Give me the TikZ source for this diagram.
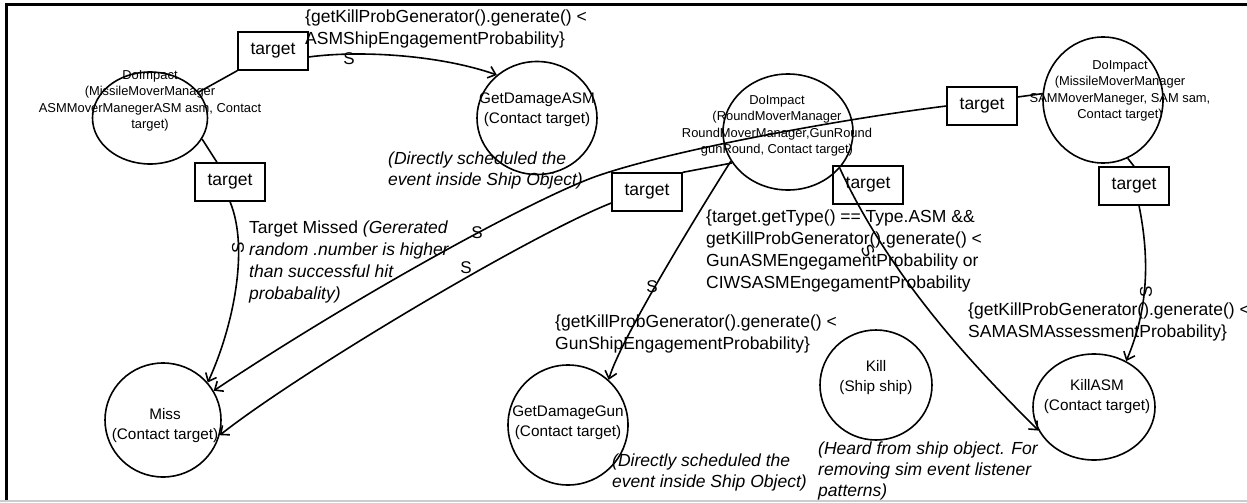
\documentclass[tikz,border=0pt]{standalone}
\usepackage{fontspec}
\setmainfont{Liberation Sans}
\usetikzlibrary{arrows.meta}
\usetikzlibrary{shapes.geometric}

\begin{document}
\begin{tikzpicture}[
          x=1pt, y=-1pt,
          state/.style = {ellipse, draw, line width=1.6pt, inner sep=0pt},
          statetext/.style = {align=center, inner sep=0pt, font=\fontsize{15.3}{20}\selectfont},
          calltext/.style = {align=center, inner sep=0pt, font=\fontsize{12.9}{16.3}\selectfont},
          tbox/.style = {rectangle, draw, line width=1.3pt, minimum width=70pt, minimum height=38pt, inner sep=0pt, font=\fontsize{17.5}{20}\selectfont},
          cond/.style = {align=left, anchor=west, inner sep=0pt, font=\fontsize{17.5}{22}\selectfont},
          note/.style = {align=left, anchor=west, inner sep=0pt, font=\fontsize{17.5}{21}\selectfont\itshape},
          sched/.style = {inner sep=0pt, font=\fontsize{17}{17}\selectfont},
          link/.style = {line width=1.6pt},
          arrow/.style = {line width=1.6pt, -{Straight Barb[length=7pt, width=12pt]}}
        ]
        \useasboundingbox (0,0) rectangle (1247,503);

        % Frame
        \draw[line width=3pt] (6.5,502) -- (6.5,5) -- (1247,5);
        \draw[black!20, line width=2pt] (0,501) -- (1247,501);

        % Nodes
        \node[state, minimum width=115pt, minimum height=92pt] (asmImpact) at (150,118) {};
        \node[calltext] (asmImpactText) at (150,101) {DoImpact\\(MissileMoverManager\\ASMMoverManegerASM asm, Contact\\target)};
        \node[state, minimum width=120pt, minimum height=113pt] (dmgAsm) at (537,118) {};
        \node[statetext] (dmgAsmText) at (537,110) {GetDamageASM\\(Contact target)};
        \node[state, minimum width=130pt, minimum height=116pt] (gunImpact) at (788,132) {};
        \node[calltext] (gunImpactText) at (777,126) {DoImpact\\(RoundMoverManager\\RoundMoverManager,GunRound\\gunRound, Contact target)};
        \node[state, minimum width=120pt, minimum height=126pt] (samImpact) at (1103,100) {};
        \node[calltext] (samImpactText) at (1120,91) {DoImpact\\(MissileMoverManager\\SAMMoverManeger, SAM sam,\\Contact target)};
        \node[state, minimum width=116pt, minimum height=114pt] (miss) at (163,420) {};
        \node[statetext] (missText) at (165,426) {Miss\\(Contact target)};
        \node[state, minimum width=120pt, minimum height=120pt] (dmgGun) at (568,425) {};
        \node[statetext] (dmgGunText) at (568,423) {GetDamageGun\\(Contact target)};
        \node[state, minimum width=112pt, minimum height=110pt] (kill) at (876,385) {};
        \node[statetext] (killText) at (876,378) {Kill\\(Ship ship)};
        \node[state, minimum width=122pt, minimum height=106pt] (killAsm) at (1094,407) {};
        \node[statetext] (killAsmText) at (1097,397) {KillASM\\(Contact target)};

        % Target boxes
        \node[tbox] (asmTgtA) at (273,51) {target};
        \node[tbox] (asmTgtB) at (230,182) {target};
        \node[tbox] (samTgtA) at (982,106) {target};
        \node[tbox] (gunTgtA) at (647,192) {target};
        \node[tbox] (gunTgtB) at (868,185) {target};
        \node[tbox] (samTgtB) at (1134,186) {target};

        % Paths between nodes
        \draw[link] (asmImpact.28) -- (asmTgtA.south west);
        \draw[arrow] ([yshift=-6pt]asmTgtA.east) .. controls (360,50) and (440,55) .. (dmgAsm.133);
        \draw[link] (asmImpact.-22) -- ([xshift=-13pt]asmTgtB.north);
        \draw[arrow] (asmTgtB.south) .. controls (250,250) and (232,330) .. (miss.40);

        \draw[link] (samImpact.174) -- ([yshift=9pt]samTgtA.east);
        \draw[arrow] (samTgtA.west) .. controls (850,118) and (680,148) .. (600,175)
                     .. controls (540,195) and (359,294) .. (miss.30);

        \draw[link] (gunImpact.209) -- (gunTgtA.north east);
        \draw[arrow] ([yshift=-11pt]gunTgtA.west) .. controls (530,235) and (300,372) .. (miss.-15);
        \draw[arrow] (gunImpact.207) .. controls (700,210) and (620,340) .. (dmgGun.48);
        \draw[arrow] (gunImpact.-35) .. controls (893,283) and (980,372) .. (killAsm.203);

        \draw[link] (samImpact.-67) -- (samTgtB.north);
        \draw[arrow] ([xshift=5pt]samTgtB.south) .. controls (1150,260) and (1148,310) .. (killAsm.55);

        % Scheduling marks
        \node[sched] (schedA) at (349,59) {S};
        \node[sched, rotate=90] (schedB) at (238,248) {S};
        \node[sched] (schedC) at (477,233) {S};
        \node[sched] (schedD) at (466,268) {S};
        \node[sched] (schedE) at (652,287) {S};
        \node[sched, rotate=-62] (schedF) at (868,251) {S};
        \node[sched, rotate=90] (schedG) at (1146,292) {S};

        % Conditions and notes
        \node[cond] (condAsm) at (305,29) {\{getKillProbGenerator().generate() <\\ASMShipEngagementProbability\}};
        \node[cond] (condMiss) at (249,262) {Target Missed \textit{(Gererated}\\\textit{random .number is higher}\\\textit{than successful hit}\\\textit{probabality)}};
        \node[cond] (condGunAsm) at (706,251) {\{target.getType() == Type.ASM \&\&\\getKillProbGenerator().generate() <\\GunASMEngegamentProbability or\\CIWSASMEngegamentProbability};
        \node[cond] (condGun) at (555,334) {\{getKillProbGenerator().generate() <\\GunShipEngagementProbability\}};
        \node[cond] (condSam) at (968,322) {\{getKillProbGenerator().generate() <\\SAMASMAssessmentProbability\}};
        \node[note] (noteAsm) at (388,170) {(Directly scheduled the\\event inside Ship Object)};
        \node[note] (noteGun) at (612,472) {(Directly scheduled the\\event inside Ship Object)};
        \node[note] (noteKill) at (818,471) {(Heard from ship object. For\\removing sim event listener\\patterns)};

      \end{tikzpicture}
\end{document}
